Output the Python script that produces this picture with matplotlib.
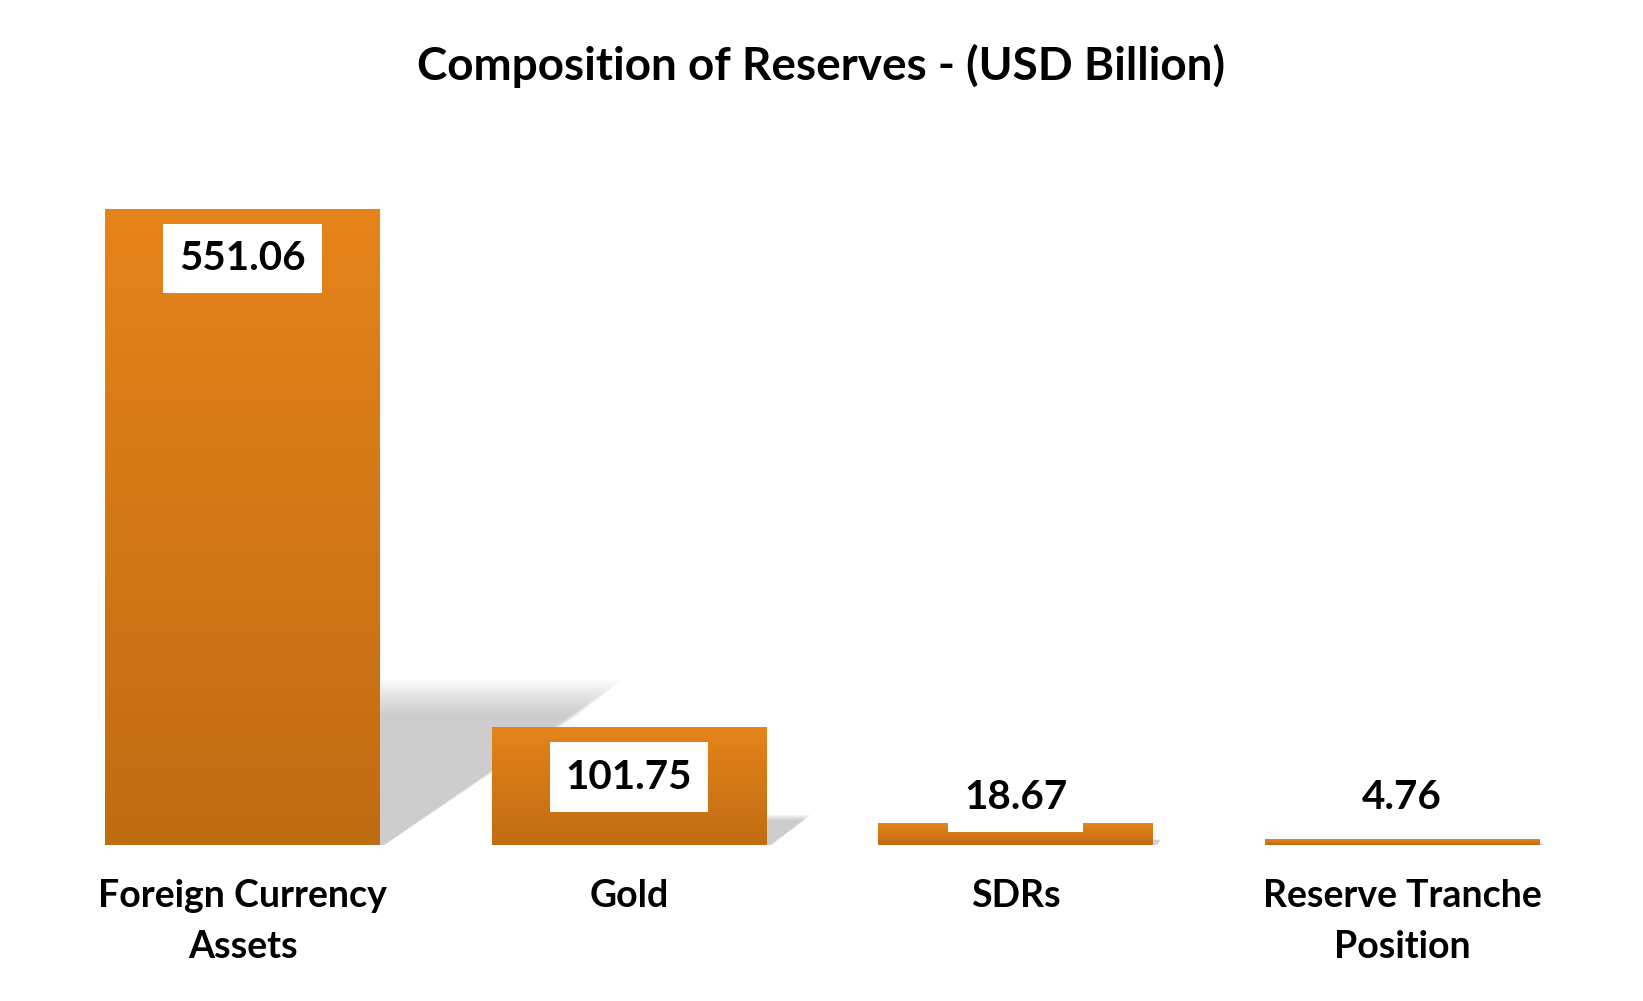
import numpy as np
import matplotlib
matplotlib.use("Agg")
import matplotlib.pyplot as plt
from matplotlib.patches import Polygon
from matplotlib.colors import LinearSegmentedColormap

categories = ["Foreign Currency\nAssets", "Gold", "SDRs", "Reserve Tranche\nPosition"]
values = [551.06, 101.75, 18.67, 4.76]
value_labels = ["551.06", "101.75", "18.67", "4.76"]
title = "Composition of Reserves - (USD Billion)"

FONT = "Lato"
TOP = "#E5841A"
BOT = "#C06C12"

fig = plt.figure(figsize=(16.43, 10.01), dpi=100)
ax = fig.add_axes([0.030, 0.156, 0.941, 0.715])
ax.set_xlim(-0.5, len(values) - 0.5)
ax.set_ylim(0, 620)
ax.axis("off")

width = 0.71
vmax = max(values)
cmap = LinearSegmentedColormap.from_list("g", [BOT, TOP])
grad = np.linspace(0, 1, 256).reshape(-1, 1)

bars = ax.bar(range(len(values)), values, width=width, color=TOP, zorder=3)

# soft perspective shadows
for i, v in enumerate(values):
    xl, xr = i - width / 2, i + width / 2
    h = 0.24 * v
    d = 0.59 * v / vmax
    n = 14
    for k in range(n):
        t = k / (n - 1)
        hh = h * (1.08 - 0.22 * t)
        dd = d * (1.06 - 0.18 * t)
        poly = Polygon([(xl, 0), (xr + 0.012, 0), (xr + dd, hh), (xl + dd, hh)],
                       closed=True, facecolor="#a0a0a0", edgecolor="none",
                       alpha=0.045, zorder=1)
        ax.add_patch(poly)

# gradient fills
for b, v in zip(bars, values):
    x0 = b.get_x()
    w = b.get_width()
    im = ax.imshow(grad, cmap=cmap, aspect="auto", origin="lower",
                   extent=[x0, x0 + w, 0, v], zorder=4, interpolation="bicubic")
    im.set_clip_path(b)
    b.set_facecolor("none")

ax.set_xlim(-0.5, len(values) - 0.5)
ax.set_ylim(0, 620)

# value labels
for i, (v, lab) in enumerate(zip(values, value_labels)):
    y = max(v - 43, 41)
    ax.text(i, y, lab, ha="center", va="center", fontsize=29, fontweight="bold",
            family=FONT, color="black", zorder=6,
            bbox=dict(boxstyle="square,pad=0.40", facecolor="white", edgecolor="none"))

# category labels
for i, c in enumerate(categories):
    ax.text(i, -30, c, ha="center", va="top", fontsize=27, fontweight="bold",
            family=FONT, color="black", linespacing=1.6)

fig.text(0.5, 0.934, title, ha="center", va="center", fontsize=33,
         fontweight="bold", family=FONT, color="black")

fig.savefig("out.png", dpi=100, facecolor="white")
